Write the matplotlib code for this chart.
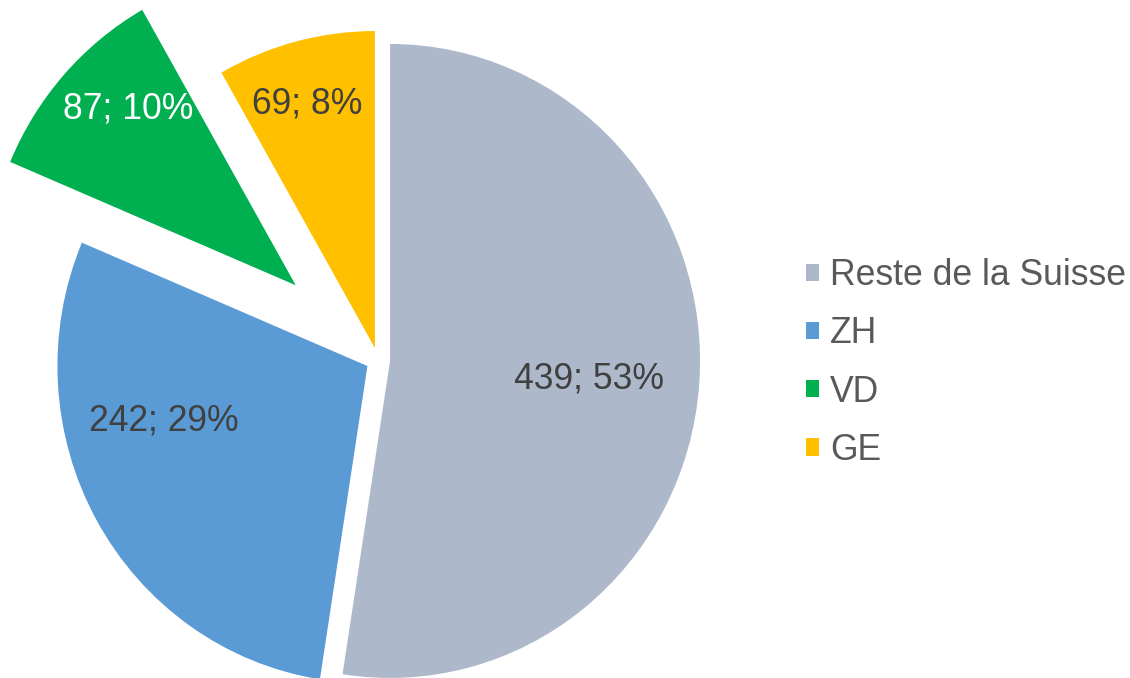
import numpy as np
import matplotlib
matplotlib.use("Agg")
import matplotlib.pyplot as plt

# data
categories = ["Reste de la Suisse", "ZH", "VD", "GE"]
values = [439, 242, 87, 69]
shares = [53, 29, 10, 8]  # as printed on the chart

colors = ["#ADB9CA", "#5B9BD5", "#00B050", "#FFC000"]
explode = [0.039, 0.039, 0.355, 0.039]
label_colors = ["#404040", "#404040", "white", "#404040"]
# label placement relative to each wedge apex (fraction of radius, angle shift in deg)
label_frac = [0.645, 0.68, 0.775, 0.80]
label_dang = [-0.7, -14.3, -4.15, 0.9]

plt.rcParams["font.family"] = ["Liberation Sans", "DejaVu Sans"]

W, H = 1130, 678
RX_PX, RY_PX = 310.0, 317.0   # the original pie is a touch taller than wide
CX, CY = 378, 678 - 360       # pie centre in pixels from bottom-left

fig = plt.figure(figsize=(W / 100, H / 100), dpi=100)
ax = fig.add_axes([0, 0, 1, 1])

wedges, _ = ax.pie(values, explode=explode, colors=colors, startangle=90,
                   counterclock=False, radius=1,
                   wedgeprops=dict(linewidth=0))

ax.set_aspect("auto")
ax.set_xlim(-CX / RX_PX, (W - CX) / RX_PX)
ax.set_ylim(-CY / RY_PX, (H - CY) / RY_PX)
ax.axis("off")

for w, v, s, frac, dang, col in zip(wedges, values, shares, label_frac,
                                    label_dang, label_colors):
    ang = np.deg2rad((w.theta1 + w.theta2) / 2 + dang)
    x = w.center[0] + frac * w.r * np.cos(ang)
    y = w.center[1] + frac * w.r * np.sin(ang)
    ax.text(x, y, f"{v}; {s}%", ha="center", va="center",
            fontsize=25.6, color=col)

leg = fig.legend(wedges, categories, loc="center left",
                 bbox_to_anchor=(806 / W, 0.4646), frameon=False,
                 fontsize=25.6, handlelength=0.37, handleheight=0.37,
                 handletextpad=0.3, labelspacing=0.65,
                 borderpad=0, borderaxespad=0)
for t in leg.get_texts():
    t.set_color("#595959")

fig.savefig("out.png", dpi=100)
